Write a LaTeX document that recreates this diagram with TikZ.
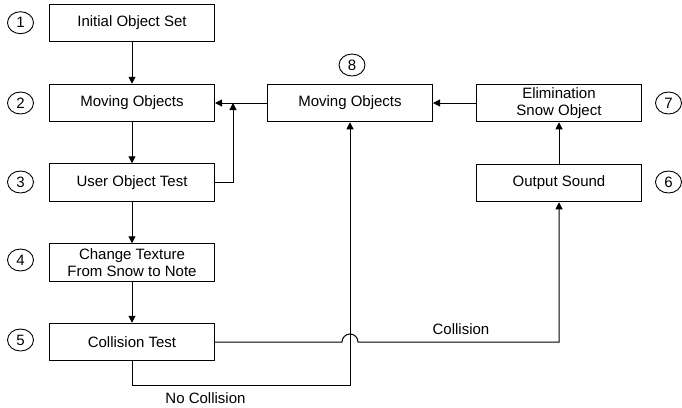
\documentclass[tikz,border=0pt]{standalone}
\usepackage{fontspec}
\setmainfont{Liberation Sans}
\usetikzlibrary{arrows.meta,shapes.geometric}
\begin{document}
\begin{tikzpicture}[x=1pt,y=-1pt,
  txt/.style={font=\fontsize{15}{17}\selectfont},
  box/.style={draw, txt, line width=1pt, minimum width=165pt,
    minimum height=37.5pt, inner sep=0pt, align=center},
  num/.style={draw, ellipse, txt, line width=0.9pt, minimum width=26pt,
    minimum height=22pt, inner sep=0pt},
  conn/.style={line width=1pt},
  arr/.style={conn, -{Triangle[length=7pt,width=7pt]}}
]
\useasboundingbox (0,0) rectangle (682,407);

% process boxes
\node[box] (b1) at (132,23)    {Initial Object Set};
\node[box] (b2) at (132,103)   {Moving Objects};
\node[box] (b3) at (132,182.5) {User Object Test};
\node[box] (b4) at (132,262.5) {Change Texture\\From Snow to Note};
\node[box] (b5) at (132,342)   {Collision Test};
\node[box] (b8) at (350,103)   {Moving Objects};
\node[box] (b7) at (559,103)   {Elimination\\Snow Object};
\node[box] (b6) at (559,183)   {Output Sound};

% step numbers
\node[num] (n1) at (20.5,22.7) {1};
\node[num] (n2) at (20.5,103)  {2};
\node[num] (n3) at (20.5,182)  {3};
\node[num] (n4) at (20.5,260)  {4};
\node[num] (n5) at (20.5,340)  {5};
\node[num] (n8) at (352,65)    {8};
\node[num] (n7) at (668.5,103) {7};
\node[num] (n6) at (668.5,182) {6};

% main column
\draw[arr] (b1) -- (b2);
\draw[arr] (b2) -- (b3);
\draw[arr] (b3) -- (b4);
\draw[arr] (b4) -- (b5);

% top row, right to left
\draw[arr] (b8) -- (b2);
\draw[arr] (b7) -- (b8);
\draw[arr] (b6) -- (b7);

% feedback from the user test into the return line
\coordinate (tap) at (233,103);
\draw[arr] (b3.east) -| (tap);

% collision branch, hopping over the no-collision line
\coordinate (jump) at (350,342);
\draw[arr] (b5.east) -- ([xshift=-8pt]b5.east -| jump)
  arc[start angle=180, end angle=0, radius=8pt]
  -- (b5.east -| b6.south) -- (b6.south);

% no-collision branch
\coordinate (nc) at (132,385);
\draw[arr] (b5.south) |- (nc -| b8.south) -- (b8.south);

% branch labels
\node[txt] (lc)  at (461,329)   {Collision};
\node[txt] (lnc) at (205.5,398) {No Collision};
\end{tikzpicture}
\end{document}
